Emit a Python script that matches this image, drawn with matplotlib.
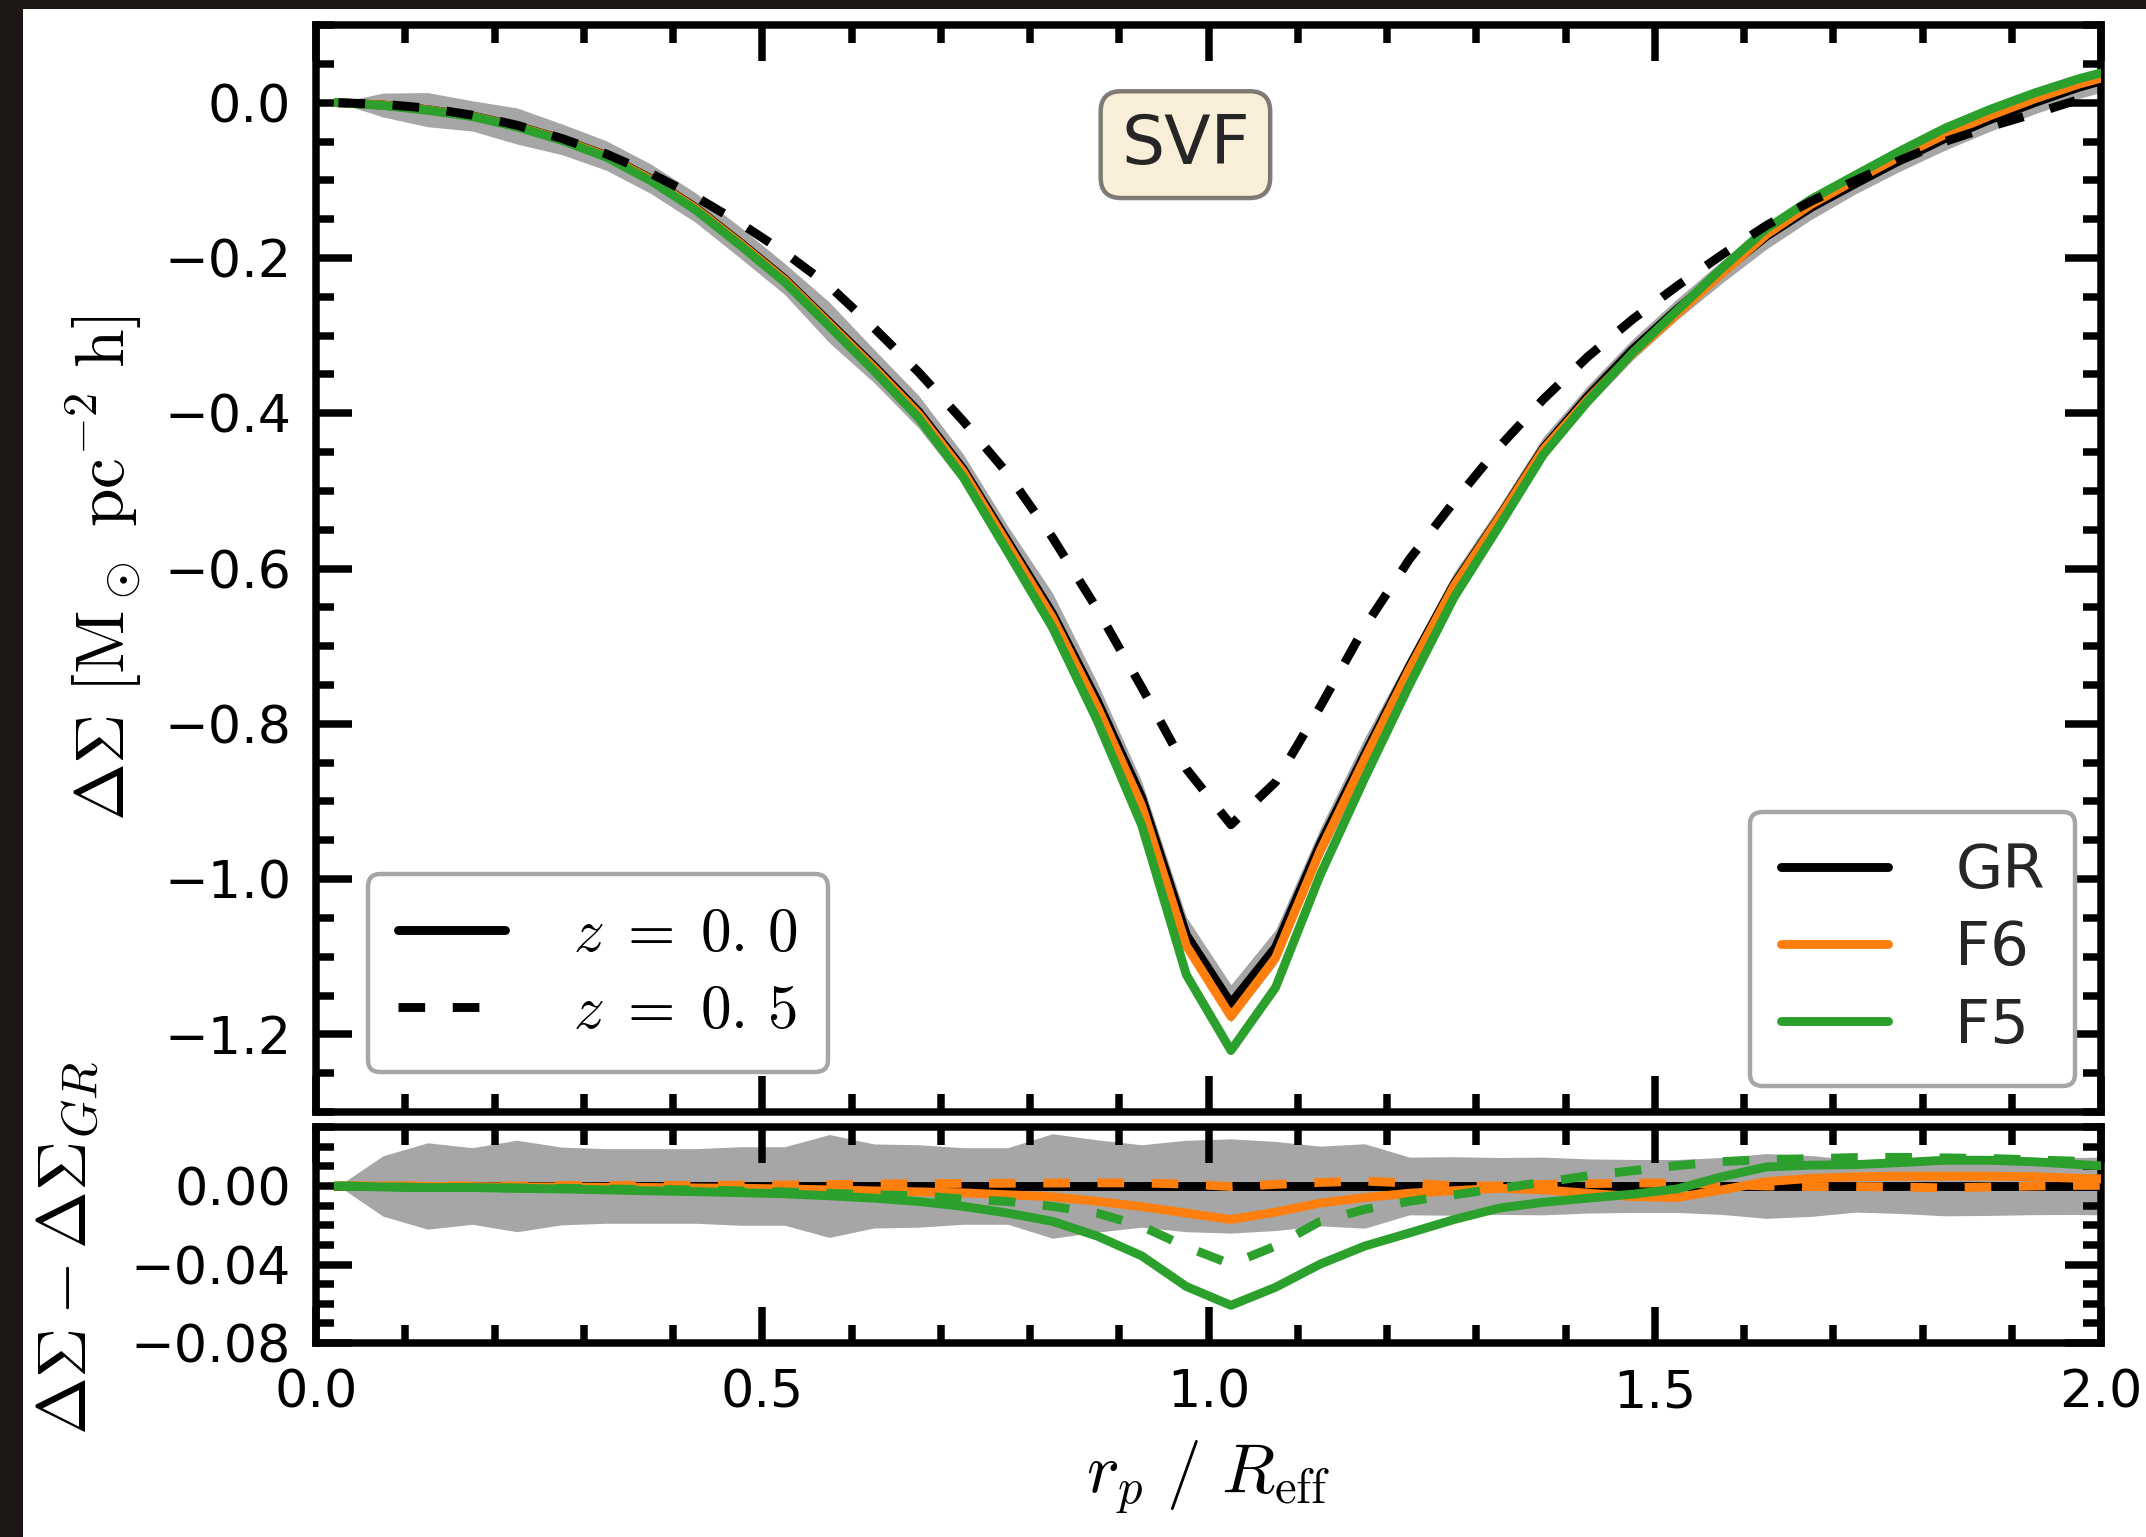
import matplotlib
matplotlib.use("Agg")
import matplotlib.pyplot as plt
import numpy as np
from matplotlib.patches import Rectangle
from matplotlib.ticker import MultipleLocator

# radial bins, r_p / R_eff
r = [0.025, 0.075, 0.125, 0.175, 0.225, 0.275, 0.325, 0.375, 0.425, 0.475,
     0.525, 0.575, 0.625, 0.675, 0.725, 0.775, 0.825, 0.875, 0.925, 0.975,
     1.025, 1.075, 1.125, 1.175, 1.225, 1.275, 1.325, 1.375, 1.425, 1.475,
     1.525, 1.575, 1.625, 1.675, 1.725, 1.775, 1.825, 1.875, 1.925, 1.975,
     2.025]

# GR profiles
gr_z0 = [0.000, -0.003, -0.009, -0.017, -0.030, -0.047, -0.068, -0.098, -0.135, -0.180,
         -0.227, -0.283, -0.339, -0.398, -0.472, -0.565, -0.658, -0.770, -0.895, -1.072,
         -1.160, -1.088, -0.955, -0.839, -0.726, -0.620, -0.535, -0.445, -0.378, -0.318,
         -0.266, -0.218, -0.172, -0.135, -0.104, -0.074, -0.046, -0.022, 0.000, 0.020,
         0.036]
gr_z05 = [0.000, -0.002, -0.007, -0.016, -0.029, -0.046, -0.066, -0.091, -0.121, -0.155,
          -0.193, -0.236, -0.290, -0.347, -0.410, -0.478, -0.560, -0.652, -0.753, -0.858,
          -0.930, -0.875, -0.778, -0.675, -0.588, -0.514, -0.444, -0.382, -0.327, -0.279,
          -0.236, -0.196, -0.158, -0.127, -0.100, -0.074, -0.050, -0.031, -0.014, 0.004,
          0.016]
# GR scatter
sigma = [0.000, 0.0154, 0.0220, 0.0195, 0.0233, 0.0198, 0.0190, 0.0190, 0.0190, 0.0200,
         0.0200, 0.0262, 0.0214, 0.0210, 0.0195, 0.0195, 0.0266, 0.0235, 0.0210, 0.0233,
         0.0240, 0.0227, 0.0203, 0.0215, 0.0147, 0.0149, 0.0145, 0.0147, 0.0138, 0.0135,
         0.0135, 0.0145, 0.0165, 0.0155, 0.0133, 0.0140, 0.0152, 0.0150, 0.0146, 0.0145,
         0.0150]

# differences to GR
f6_z0 = [0.0, 0.0, -0.0002, -0.0003, -0.0005, -0.0005, -0.0007, -0.0008, -0.0010, -0.0012,
         -0.0015, -0.0020, -0.0025, -0.0030, -0.0035, -0.0045, -0.0055, -0.0078, -0.0105, -0.0138,
         -0.0171, -0.0133, -0.0087, -0.0059, -0.0037, -0.0024, -0.0012, -0.0020, -0.0037, -0.0054,
         -0.0059, -0.0020, 0.0022, 0.0039, 0.0047, 0.0050, 0.0050, 0.0050, 0.0047, 0.0039,
         0.0034]
f5_z0 = [0.0, -0.0005, -0.0008, -0.0008, -0.0012, -0.0015, -0.0020, -0.0025, -0.0029, -0.0034,
         -0.0040, -0.0050, -0.0062, -0.0079, -0.0104, -0.0138, -0.0180, -0.0255, -0.0356, -0.0512,
         -0.0608, -0.0516, -0.0398, -0.0306, -0.0239, -0.0171, -0.0113, -0.0083, -0.0062, -0.0042,
         -0.0015, 0.0047, 0.0097, 0.0106, 0.0109, 0.0119, 0.0131, 0.0131, 0.0123, 0.0109,
         0.0097]
f6_z05 = [0.0, 0.0, 0.0, 0.0, 0.0, 0.0002, 0.0002, 0.0003, 0.0003, 0.0004,
          0.0005, 0.0007, 0.0010, 0.0012, 0.0013, 0.0014, 0.0015, 0.0016, 0.0015, 0.0010,
          -0.0003, 0.0008, 0.0018, 0.0025, 0.0015, 0.0000, 0.0000, 0.0008, 0.0012, 0.0015,
          0.0015, 0.0008, 0.0000, -0.0003, -0.0003, -0.0005, -0.0010, -0.0005, 0.0000, 0.0003,
          0.0003]
f5_z05 = [0.0, -0.0005, -0.0008, -0.0008, -0.0010, -0.0012, -0.0015, -0.0018, -0.0020, -0.0025,
          -0.0030, -0.0037, -0.0045, -0.0050, -0.0066, -0.0079, -0.0104, -0.0138, -0.0205, -0.0310,
          -0.0398, -0.0306, -0.0180, -0.0119, -0.0078, -0.0045, -0.0012, 0.0018, 0.0052, 0.0078,
          0.0104, 0.0124, 0.0135, 0.0139, 0.0145, 0.0146, 0.0143, 0.0140, 0.0133, 0.0126,
          0.0120]

GREY = "#a6a6a6"
ORANGE = "#ff7f0e"
GREEN = "#2ca02c"
LW = 3.2
DASH = (3.0, 3.1)
SPINE = 2.7

plt.rcParams["mathtext.fontset"] = "cm"
plt.rcParams["font.family"] = "DejaVu Sans"

r = np.array(r)
gr_z0 = np.array(gr_z0)
gr_z05 = np.array(gr_z05)
sigma = np.array(sigma)

fig = plt.figure(figsize=(10.73, 7.685), dpi=200, facecolor="#1c1614")
fig.patches.append(Rectangle((23 / 2146, 0), 1, 1 - 9 / 1537, transform=fig.transFigure,
                             facecolor="white", edgecolor="none", zorder=-10))

ax = fig.add_axes([0.1473, 0.2765, 0.8318, 0.7072])
ax2 = fig.add_axes([0.1473, 0.1262, 0.8318, 0.1405])

# upper panel
ax.fill_between(r, gr_z0 - sigma, gr_z0 + sigma, color=GREY, lw=0, zorder=1)
ax.plot(r, gr_z0, color="k", lw=LW, zorder=2)
ax.plot(r, gr_z0 + np.array(f6_z0), color=ORANGE, lw=LW, zorder=3)
ax.plot(r, gr_z0 + np.array(f5_z0), color=GREEN, lw=LW, zorder=4)
ax.plot(r, gr_z05, color="k", lw=LW, ls=(0, DASH), zorder=5)

# lower panel
ax2.fill_between(r, -sigma, sigma, color=GREY, lw=0, zorder=1)
zero = np.zeros_like(r)
ax2.plot(r, zero, color="k", lw=LW, zorder=2)
ax2.plot(r, zero, color="k", lw=LW, ls=(0, DASH), zorder=2)
ax2.plot(r, f6_z0, color=ORANGE, lw=LW, zorder=3)
ax2.plot(r, f6_z05, color=ORANGE, lw=LW, ls=(0, DASH), zorder=3)
ax2.plot(r, f5_z0, color=GREEN, lw=LW, zorder=4)
ax2.plot(r, f5_z05, color=GREEN, lw=LW, ls=(0, DASH), zorder=4)

for a in (ax, ax2):
    a.set_xlim(0, 2.0)
    a.xaxis.set_major_locator(MultipleLocator(0.5))
    a.xaxis.set_minor_locator(MultipleLocator(0.1))
    a.tick_params(which="both", direction="in", top=True, right=True, width=SPINE,
                  labelsize=18.8, pad=9)
    a.tick_params(which="major", length=13)
    a.tick_params(which="minor", length=6.5)
    for s in a.spines.values():
        s.set_linewidth(SPINE)

ax.set_ylim(-1.3, 0.1)
ax.yaxis.set_major_locator(MultipleLocator(0.2))
ax.yaxis.set_minor_locator(MultipleLocator(0.05))
ax.tick_params(labelbottom=False)

ax2.set_ylim(-0.08, 0.03)
ax2.yaxis.set_minor_locator(MultipleLocator(0.01))
ax2.set_yticks([0.0, -0.04, -0.08])
ax2.set_yticklabels(["0.00", "\u22120.04", "\u22120.08"])

ax.set_ylabel(r"$\Delta\Sigma\ [\mathrm{M_\odot\ pc^{-2}\ h}]$", fontsize=25, va="center")
ax.yaxis.set_label_coords(-0.119, 0.5)
ax2.set_ylabel(r"$\Delta\Sigma - \Delta\Sigma_{GR}$", fontsize=25, va="center")
ax2.yaxis.set_label_coords(-0.139, 0.44)
ax2.set_xlabel(r"$r_p\ /\ R_{\rm eff}$", fontsize=25, va="center")
ax2.xaxis.set_label_coords(0.5, -0.625)

ax.text(0.487, 0.89, "SVF", transform=ax.transAxes, ha="center", va="center",
        fontsize=24.5, color="#262626",
        bbox=dict(boxstyle="round", facecolor="wheat", alpha=0.5, lw=1.6))

# legends
leg_kw = dict(fontsize=22, handlelength=1.75, handletextpad=1.1, labelspacing=0.3,
              borderpad=0.5, framealpha=1, fancybox=True)
z_handles = [plt.Line2D([], [], color="k", lw=LW, solid_capstyle="round"),
             plt.Line2D([], [], color="k", lw=LW, ls=(0, DASH))]
leg1 = ax.legend(z_handles, [r"$z\;=\;0.\,0$", r"$z\;=\;0.\,5$"], loc="lower left",
                 bbox_to_anchor=(0.029, 0.037), borderaxespad=0, **leg_kw)
leg1.get_frame().set_edgecolor(GREY)
leg1.get_frame().set_linewidth(1.6)
ax.add_artist(leg1)

m_handles = [plt.Line2D([], [], color=c, lw=LW, solid_capstyle="round")
             for c in ("k", ORANGE, GREEN)]
leg2 = ax.legend(m_handles, ["GR", "F6", "F5"], loc="lower right", borderaxespad=0.42,
                 **leg_kw)
leg2.get_frame().set_edgecolor(GREY)
leg2.get_frame().set_linewidth(1.6)
for t in leg2.get_texts():
    t.set_color("#262626")

fig.savefig("out.png", dpi=200, facecolor=fig.get_facecolor())
